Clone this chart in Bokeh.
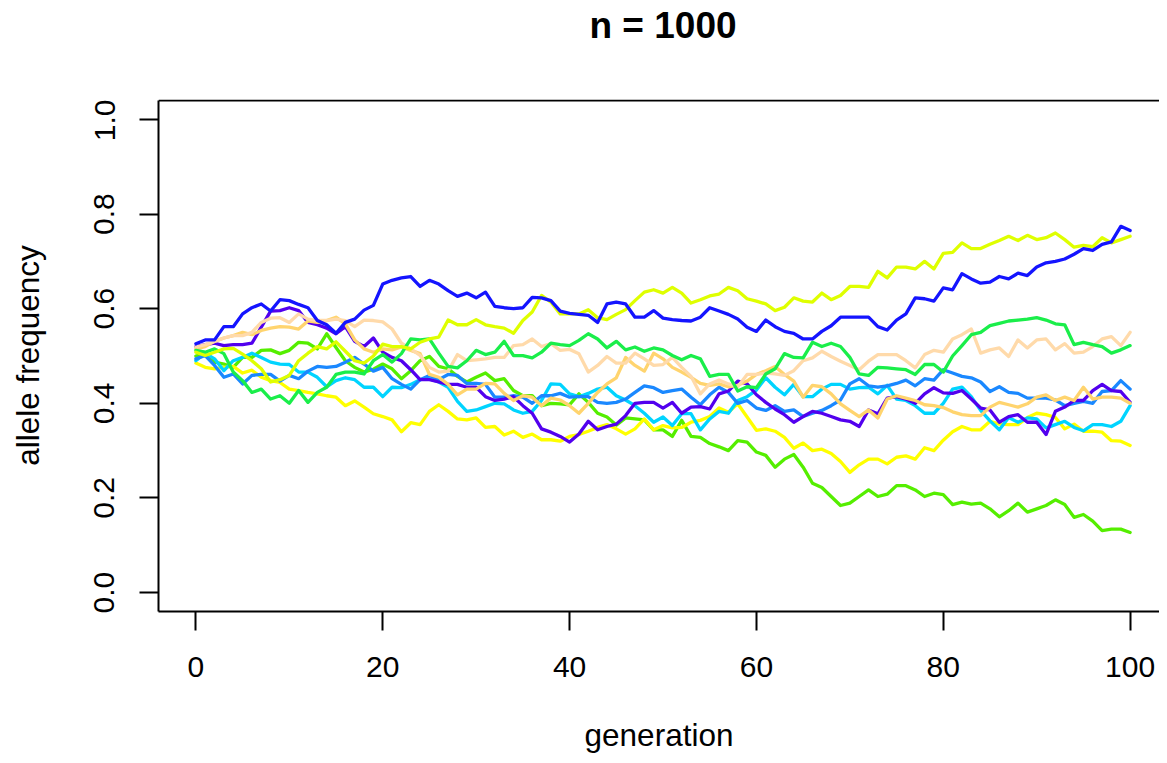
from bokeh.plotting import figure
from bokeh.models import Range1d, FixedTicker, PrintfTickFormatter, Label, Span
from bokeh.layouts import column
from bokeh.embed import file_html
from bokeh.resources import INLINE

# ---- data -------------------------------------------------------------
generation = list(range(0, 101))

blue = [.526,.534,.534,.562,.562,.589,.602,.610,.595,.619,.617,.609,.602,.575,.566,.548,.571,.578,.597,.607,.652,
        .660,.665,.668,.647,.660,.652,.638,.626,.633,.623,.635,.605,.602,.600,.602,.624,.623,.617,.595,.590,
        .588,.586,.571,.610,.614,.610,.582,.582,.596,.580,.577,.575,.574,.582,.602,.595,.588,.578,.561,.552,
        .576,.562,.552,.548,.536,.536,.552,.564,.582,.582,.582,.582,.562,.555,.576,.589,.623,.621,.616,.644,
        .640,.674,.663,.654,.656,.668,.663,.675,.670,.688,.697,.700,.705,.715,.727,.723,.736,.741,.774,.765]

lime_yellow = [.508,.501,.508,.515,.516,.504,.490,.473,.445,.450,.459,.490,.506,.520,.515,.530,.510,.490,.485,.500,.525,
               .520,.520,.515,.529,.536,.540,.576,.566,.566,.577,.566,.562,.559,.548,.575,.593,.628,.614,.589,.589,
               .589,.598,.581,.577,.588,.598,.617,.635,.640,.633,.645,.633,.612,.619,.627,.631,.645,.638,.621,.616,
               .610,.596,.603,.623,.616,.614,.633,.619,.628,.647,.647,.645,.679,.665,.688,.688,.684,.700,.684,.717,
               .719,.739,.727,.727,.736,.744,.753,.744,.755,.746,.750,.760,.746,.730,.734,.731,.750,.739,.746,.753]

yellow = [.485,.476,.473,.476,.478,.464,.470,.455,.448,.444,.430,.427,.423,.420,.416,.413,.395,.405,.392,.378,.372,
          .365,.340,.359,.355,.383,.397,.383,.367,.365,.369,.349,.351,.333,.341,.328,.335,.323,.323,.320,.330,
          .334,.341,.349,.355,.346,.335,.346,.367,.344,.353,.348,.349,.360,.364,.372,.390,.381,.399,.371,.343,
          .346,.341,.328,.305,.316,.300,.303,.294,.277,.254,.270,.282,.282,.272,.286,.289,.282,.306,.300,.322,
          .340,.351,.344,.344,.362,.356,.355,.355,.370,.379,.376,.370,.346,.356,.341,.341,.339,.321,.320,.311]

lime = [.500,.505,.487,.483,.476,.497,.497,.512,.513,.505,.512,.529,.527,.515,.547,.518,.490,.476,.466,.472,.483,
        .473,.452,.469,.490,.499,.478,.473,.457,.445,.455,.464,.448,.452,.427,.416,.416,.395,.400,.399,.397,
        .420,.402,.379,.371,.354,.369,.367,.365,.344,.344,.330,.364,.330,.328,.315,.308,.300,.321,.318,.297,
        .290,.265,.282,.292,.265,.231,.222,.203,.184,.189,.203,.217,.203,.208,.226,.226,.217,.203,.210,.207,
        .186,.191,.187,.189,.177,.160,.173,.189,.170,.177,.184,.196,.186,.159,.165,.151,.131,.134,.134,.127]

spring = [.512,.508,.515,.505,.466,.448,.423,.430,.409,.416,.400,.427,.402,.423,.434,.461,.466,.466,.462,.490,.503,
          .487,.505,.536,.534,.536,.506,.478,.475,.490,.512,.503,.508,.531,.501,.501,.496,.508,.527,.524,.522,
          .533,.547,.536,.517,.531,.513,.519,.510,.517,.513,.501,.492,.501,.494,.457,.461,.461,.426,.435,.433,
          .462,.473,.505,.497,.496,.529,.520,.527,.520,.497,.462,.459,.476,.475,.473,.471,.461,.482,.482,.466,
          .500,.522,.545,.550,.564,.569,.574,.576,.578,.581,.576,.568,.566,.524,.529,.524,.520,.506,.513,.522]

peach = [.519,.524,.531,.538,.543,.543,.550,.571,.580,.581,.571,.589,.578,.575,.575,.578,.575,.562,.576,.575,.572,
         .557,.527,.515,.501,.476,.466,.468,.503,.490,.492,.494,.497,.497,.522,.524,.536,.520,.526,.512,.514,
         .505,.466,.480,.499,.485,.485,.506,.494,.480,.482,.497,.476,.457,.420,.441,.449,.441,.435,.461,.461,
         .464,.462,.459,.469,.490,.496,.510,.499,.489,.480,.471,.489,.503,.503,.503,.490,.475,.503,.512,.508,
         .536,.545,.557,.506,.513,.517,.499,.534,.517,.534,.536,.513,.526,.506,.508,.520,.536,.541,.522,.550]

orange = [.515,.520,.531,.538,.543,.550,.545,.554,.559,.562,.561,.557,.574,.571,.575,.582,.568,.534,.515,.508,.515,
          .513,.519,.512,.505,.461,.455,.440,.418,.430,.430,.442,.441,.421,.406,.416,.413,.395,.411,.407,.395,
          .379,.400,.423,.441,.454,.497,.480,.468,.506,.494,.476,.466,.455,.442,.438,.441,.435,.438,.447,.461,
          .469,.478,.461,.447,.413,.438,.435,.420,.399,.385,.372,.386,.369,.409,.416,.411,.406,.397,.395,.391,
          .382,.376,.374,.374,.392,.402,.397,.392,.399,.413,.418,.406,.413,.406,.434,.409,.413,.413,.411,.400]

dodger = [.494,.501,.480,.455,.462,.441,.459,.461,.461,.447,.459,.452,.468,.478,.476,.478,.487,.497,.483,.468,.476,
          .452,.440,.430,.450,.459,.450,.461,.459,.442,.442,.440,.413,.413,.416,.413,.400,.416,.416,.421,.413,
          .414,.414,.402,.400,.402,.409,.423,.437,.433,.423,.427,.430,.413,.397,.418,.434,.423,.400,.406,.390,
          .385,.395,.383,.386,.372,.379,.385,.395,.407,.441,.452,.437,.434,.437,.442,.449,.437,.452,.449,.471,
          .464,.457,.454,.445,.425,.435,.423,.421,.411,.411,.411,.407,.395,.400,.404,.400,.425,.427,.448,.430]

purple = [.520,.524,.527,.522,.524,.524,.527,.561,.595,.596,.602,.596,.571,.566,.559,.547,.562,.531,.520,.538,.508,
          .497,.490,.471,.450,.450,.445,.440,.440,.434,.434,.414,.406,.409,.414,.395,.379,.346,.339,.330,.318,
          .335,.362,.344,.351,.356,.374,.400,.402,.402,.390,.402,.379,.392,.393,.388,.420,.426,.447,.441,.418,
          .402,.388,.376,.360,.372,.383,.379,.372,.365,.362,.351,.386,.378,.411,.414,.409,.400,.420,.433,.422,
          .421,.427,.409,.390,.386,.360,.372,.376,.360,.360,.334,.383,.392,.406,.406,.427,.440,.427,.425,.402]

cyan = [.490,.506,.494,.469,.490,.497,.506,.497,.487,.483,.482,.466,.466,.455,.435,.448,.454,.450,.434,.434,.414,
        .434,.433,.440,.450,.452,.445,.434,.404,.383,.386,.393,.400,.399,.386,.379,.383,.406,.441,.440,.420,
        .414,.421,.430,.434,.416,.407,.395,.379,.360,.371,.353,.378,.378,.344,.367,.383,.379,.406,.414,.428,
        .454,.434,.418,.440,.414,.414,.430,.440,.440,.430,.433,.434,.420,.438,.409,.406,.395,.379,.379,.400,
        .430,.434,.414,.385,.363,.344,.370,.360,.369,.367,.348,.355,.362,.349,.342,.355,.355,.351,.362,.395]

series = [
    (lime, "#55EE00"),
    (yellow, "#FFFF00"),
    (cyan, "#00D4FF"),
    (dodger, "#1A88FF"),
    (purple, "#5200EE"),
    (orange, "#FFD46E"),
    (peach, "#FFDAAA"),
    (spring, "#1AEE4A"),
    (lime_yellow, "#DFFF00"),
    (blue, "#1414FF"),
]

x_ticks = [0, 20, 40, 60, 80, 100]
y_ticks = [0.0, 0.2, 0.4, 0.6, 0.8, 1.0]
title_text = "n = 1000"

for s, _ in series:
    assert len(s) == len(generation)

FONT = "Liberation Sans"
W, H = 1159, 755
LEFT = 158          # left edge of the plot box
TITLE_H = 99        # height of the title strip (frame of main plot starts here)
BOX_TOP = 100       # top edge of the plot box (px from canvas top)
BOX_BOTTOM = 611    # bottom edge of the plot box

# R-style 4% range extension
x0, x1 = 0, 100
y0, y1 = 0.0, 1.0
xpad = 0.04 * (x1 - x0)
ypad = 0.04 * (y1 - y0)
x_ppu = 1009 / (x1 - x0 + 2 * xpad)
y_ppu = (BOX_BOTTOM - BOX_TOP) / (y1 - y0 + 2 * ypad)
box_top = y1 + ypad
x_start = x0 - xpad
x_end = x_start + (W - LEFT) / x_ppu
x_range = Range1d(x_start, x_end)
y_range = Range1d(y0 - ypad, y0 - ypad + (BOX_BOTTOM - TITLE_H) / y_ppu)

MAIN_H = H - TITLE_H

# ---- title strip (its frame is aligned with the main plot's frame) ------
t = figure(width=W, height=TITLE_H, title=None, output_backend="svg", toolbar_location=None,
           x_range=x_range, y_range=Range1d(0, TITLE_H),
           x_axis_type=None, y_axis_type=None,
           min_border_left=LEFT, min_border_right=0, min_border_top=0, min_border_bottom=0)
t.outline_line_color = None
t.grid.visible = False
t.add_layout(Label(x=(x0 + x1) / 2, y=TITLE_H - 25, text=title_text,
                   text_font=FONT, text_font_size="37px", text_font_style="bold",
                   text_color="black", text_align="center", text_baseline="middle"))

# ---- main plot ---------------------------------------------------------
p = figure(width=W, height=MAIN_H, x_range=x_range, y_range=y_range, title=None,
           output_backend="svg", toolbar_location=None,
           min_border_left=LEFT, min_border_right=0, min_border_top=0,
           min_border_bottom=H - BOX_BOTTOM,
           x_axis_label="generation", y_axis_label="allele frequency")

p.outline_line_color = None
p.xgrid.visible = False
p.ygrid.visible = False
p.background_fill_color = "white"
p.border_fill_color = "white"

for ax in (p.xaxis[0], p.yaxis[0]):
    ax.axis_line_width = 2
    ax.axis_line_color = "black"
    ax.major_tick_line_width = 2
    ax.major_tick_line_color = "black"
    ax.major_tick_out = 19
    ax.major_tick_in = 0
    ax.minor_tick_out = 0
    ax.minor_tick_in = 0
    ax.major_label_text_font = FONT
    ax.major_label_text_font_size = "30px"
    ax.major_label_text_color = "black"
    ax.axis_label_text_font = FONT
    ax.axis_label_text_font_size = "31.5px"
    ax.axis_label_text_font_style = "normal"
    ax.axis_label_text_color = "black"

p.xaxis[0].ticker = FixedTicker(ticks=x_ticks)
p.xaxis[0].major_label_standoff = 26
p.xaxis[0].axis_label_standoff = 37

p.yaxis[0].ticker = FixedTicker(ticks=y_ticks)
p.yaxis[0].formatter = PrintfTickFormatter(format="%.1f")
p.yaxis[0].major_label_orientation = "vertical"
p.yaxis[0].major_label_standoff = 25
p.yaxis[0].axis_label_standoff = 46
p.yaxis[0].bounds = (y0 - ypad, box_top)

# top edge of the plot box
p.add_layout(Span(location=box_top, dimension="width", line_color="black", line_width=2))

for s, c in series:
    p.line(generation, s, line_color=c, line_width=3.3, line_join="round", line_cap="round")

layout = column(t, p, spacing=0)
open("out.html", "w").write(file_html(layout, INLINE))
